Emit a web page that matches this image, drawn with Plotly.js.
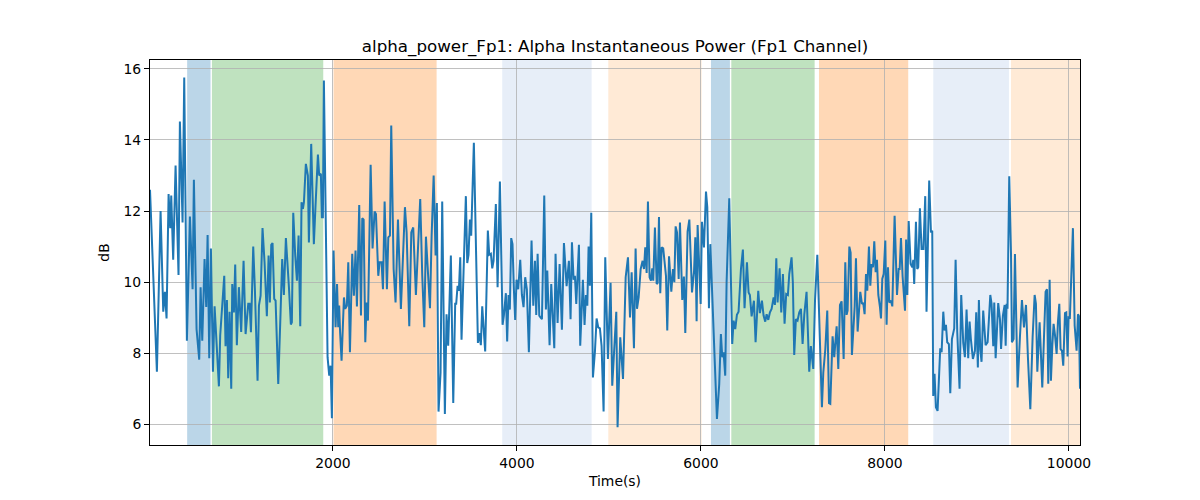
<!DOCTYPE html>
<html>
<head>
<meta charset="utf-8">
<script src="https://cdn.plot.ly/plotly-3.0.1.min.js"></script>
<style>
  html, body { margin: 0; padding: 0; background: #ffffff; }
  #chart { width: 1200px; height: 500px; }
</style>
</head>
<body>
<div id="chart"></div>
<script>
// values
const timeS = [
    12, 87, 127, 156, 174, 192, 214, 232, 243, 264, 290, 322, 337, 366, 384, 413, 446, 475, 489, 518,
    547, 562, 580, 605, 623, 638, 656, 674, 696, 714, 761, 775, 819, 833, 848, 862, 877, 895, 906, 924,
    938, 956, 978, 1003, 1029, 1051, 1080, 1095, 1109, 1134, 1152, 1181, 1196, 1214, 1235, 1257, 1282, 1301, 1315, 1330,
    1344, 1362, 1377, 1406, 1431, 1449, 1467, 1489, 1522, 1543, 1554, 1569, 1590, 1609, 1627, 1645, 1659, 1674, 1685, 1706,
    1728, 1739, 1764, 1793, 1811, 1837, 1851, 1869, 1880, 1891, 1902, 1924, 1942, 1960, 1975, 1989, 2007, 2029, 2045, 2058,
    2068, 2078, 2094, 2120, 2134, 2152, 2167, 2185, 2210, 2228, 2246, 2261, 2286, 2305, 2319, 2334, 2352, 2366, 2381, 2410,
    2431, 2453, 2468, 2493, 2507, 2529, 2544, 2562, 2587, 2602, 2620, 2634, 2660, 2681, 2707, 2739, 2761, 2783, 2801, 2830,
    2852, 2873, 2902, 2924, 2949, 2971, 2993, 3011, 3029, 3055, 3073, 3095, 3116, 3130, 3148, 3170, 3188, 3217, 3235, 3253,
    3282, 3308, 3329, 3340, 3355, 3369, 3384, 3398, 3420, 3445, 3460, 3474, 3489, 3503, 3532, 3554, 3576, 3590, 3608, 3623,
    3655, 3684, 3699, 3717, 3732, 3746, 3771, 3790, 3815, 3844, 3858, 3880, 3894, 3909, 3923, 3938, 3952, 3967, 3981, 3996,
    4014, 4036, 4054, 4072, 4090, 4108, 4130, 4159, 4178, 4196, 4210, 4225, 4243, 4258, 4272, 4297, 4315, 4330, 4355, 4373,
    4391, 4406, 4420, 4442, 4464, 4489, 4511, 4540, 4565, 4583, 4598, 4616, 4630, 4645, 4674, 4688, 4717, 4735, 4750, 4765,
    4779, 4793, 4808, 4826, 4848, 4866, 4884, 4902, 4920, 4942, 4960, 4989, 5018, 5036, 5080, 5094, 5123, 5153, 5182, 5207,
    5229, 5247, 5272, 5290, 5305, 5323, 5345, 5366, 5381, 5395, 5410, 5424, 5442, 5457, 5471, 5482, 5500, 5519, 5530, 5544,
    5558, 5573, 5590, 5605, 5620, 5634, 5653, 5678, 5696, 5711, 5725, 5740, 5758, 5772, 5797, 5815, 5830, 5855, 5874, 5903,
    5925, 5939, 5953, 5964, 5997, 6011, 6033, 6055, 6069, 6087, 6102, 6152, 6174, 6199, 6217, 6232, 6246, 6264, 6279, 6308,
    6322, 6340, 6355, 6373, 6391, 6409, 6435, 6456, 6474, 6500, 6518, 6532, 6551, 6576, 6594, 6623, 6641, 6663, 6681, 6699,
    6714, 6732, 6750, 6768, 6790, 6804, 6819, 6833, 6855, 6873, 6891, 6909, 6927, 6945, 6960, 6985, 6999, 7014, 7032, 7050,
    7069, 7087, 7105, 7123, 7148, 7177, 7195, 7221, 7240, 7265, 7315, 7330, 7352, 7373, 7392, 7406, 7431, 7449, 7475, 7493,
    7511, 7529, 7551, 7569, 7583, 7594, 7613, 7627, 7641, 7671, 7685, 7703, 7732, 7750, 7764, 7779, 7794, 7808, 7826, 7841,
    7855, 7870, 7884, 7899, 7913, 7928, 7946, 7957, 7971, 7986, 8004, 8018, 8033, 8047, 8065, 8080, 8105, 8131, 8149, 8160,
    8174, 8192, 8218, 8230, 8243, 8258, 8279, 8297, 8308, 8318, 8337, 8351, 8362, 8380, 8398, 8418, 8438, 8452, 8481, 8500,
    8514, 8525, 8539, 8554, 8572, 8601, 8616, 8634, 8648, 8663, 8677, 8695, 8710, 8728, 8753, 8768, 8786, 8811, 8829, 8851,
    8869, 8887, 8905, 8920, 8934, 8956, 8978, 8992, 9010, 9021, 9036, 9050, 9068, 9094, 9116, 9145, 9159, 9177, 9188, 9203,
    9231, 9250, 9262, 9282, 9301, 9312, 9322, 9332, 9351, 9370, 9380, 9398, 9413, 9442, 9467, 9489, 9511, 9533, 9554, 9580,
    9605, 9627, 9641, 9656, 9681, 9696, 9710, 9728, 9746, 9761, 9775, 9790, 9804, 9819, 9833, 9848, 9866, 9880, 9895, 9909,
    9924, 9938, 9957, 9971, 9985, 9996, 10010, 10043, 10062, 10083, 10098, 10108, 10120
];

const alphaDb = [
    12.6, 7.48, 12.0, 9.17, 9.73, 8.98, 12.48, 11.52, 12.44, 10.63, 13.28, 10.2, 14.52, 11.68, 15.76, 8.35, 11.85, 9.8, 12.88, 8.68,
    7.82, 9.86, 8.35, 10.65, 9.3, 11.33, 7.86, 10.95, 7.48, 9.32, 7.07, 8.5, 10.18, 8.2, 9.5, 7.3, 9.17, 7.0, 9.95, 9.15,
    10.5, 8.23, 9.86, 8.6, 10.6, 8.54, 9.39, 9.39, 8.59, 11.0, 9.8, 7.23, 9.34, 9.62, 11.52, 10.56, 9.04, 10.75, 9.43, 11.05,
    11.1, 9.53, 9.48, 7.14, 9.15, 10.65, 9.64, 11.24, 9.86, 8.81, 8.87, 11.95, 10.77, 10.04, 11.31, 8.76, 12.25, 12.06, 12.25, 13.33,
    13.0, 11.12, 13.89, 11.07, 12.15, 13.59, 13.0, 13.05, 11.83, 11.83, 15.67, 11.12, 7.89, 7.37, 7.65, 6.17, 10.89, 8.73, 9.95, 8.73,
    9.34, 8.59, 7.79, 9.57, 9.25, 9.34, 10.56, 8.03, 10.8, 9.62, 10.89, 9.32, 12.17, 9.06, 11.8, 11.76, 8.31, 9.43, 8.92, 13.3,
    10.95, 11.99, 11.92, 10.18, 10.56, 10.56, 9.8, 12.27, 9.8, 11.26, 11.31, 14.41, 10.37, 9.43, 11.76, 9.25, 10.56, 12.11, 11.4, 8.76,
    11.4, 11.54, 9.64, 10.8, 12.34, 10.18, 8.73, 11.28, 10.56, 9.27, 11.31, 13.0, 10.75, 12.23, 6.36, 7.46, 12.27, 6.29, 9.1, 8.21,
    10.75, 6.6, 9.39, 9.39, 9.9, 9.76, 10.7, 8.38, 10.3, 12.42, 10.54, 10.77, 11.76, 11.31, 13.92, 11.4, 8.29, 8.57, 8.23, 9.32,
    8.05, 11.45, 10.77, 10.8, 10.39, 10.6, 12.2, 9.86, 12.83, 8.8, 9.06, 9.69, 8.33, 9.64, 9.23, 11.24, 11.07, 9.8, 8.94, 10.07,
    9.8, 10.63, 9.64, 9.3, 10.14, 9.8, 8.03, 11.17, 9.34, 10.6, 9.08, 10.8, 9.06, 9.0, 8.96, 12.44, 9.23, 10.33, 8.23, 9.95,
    8.68, 8.14, 10.8, 8.85, 10.51, 8.66, 11.1, 9.89, 10.6, 8.96, 11.12, 10.07, 10.18, 9.39, 11.05, 8.21, 10.07, 8.8, 9.64, 9.34,
    11.0, 9.9, 11.95, 7.32, 8.05, 8.98, 8.73, 8.7, 8.21, 6.36, 10.7, 7.84, 9.98, 7.09, 9.17, 5.92, 8.45, 7.28, 10.14, 10.7,
    9.01, 10.28, 8.14, 10.95, 9.25, 9.57, 10.37, 10.6, 10.37, 10.98, 10.26, 12.27, 10.14, 10.04, 10.39, 10.04, 11.54, 9.95, 9.98, 11.83,
    9.69, 10.98, 10.95, 10.51, 10.18, 8.64, 10.73, 9.73, 10.37, 10.0, 11.57, 11.4, 10.09, 11.68, 9.5, 10.16, 8.57, 11.42, 11.76, 9.71,
    10.3, 11.26, 8.9, 11.61, 9.39, 11.7, 10.98, 12.55, 12.11, 9.27, 11.07, 7.65, 6.15, 7.14, 8.54, 7.89, 8.03, 7.37, 10.0, 12.36,
    10.65, 8.26, 8.92, 8.68, 9.08, 9.17, 10.37, 10.92, 9.27, 10.56, 9.71, 9.64, 9.04, 9.48, 8.31, 9.76, 9.13, 9.48, 9.06, 8.89,
    9.1, 8.94, 9.15, 9.25, 9.57, 9.36, 10.67, 9.43, 10.39, 9.15, 10.23, 8.83, 9.67, 9.64, 10.23, 10.7, 10.0, 7.95, 8.96, 8.92,
    9.15, 9.25, 8.26, 9.08, 9.73, 7.48, 8.2, 7.56, 9.5, 10.77, 6.48, 7.46, 8.12, 9.2, 6.6, 6.58, 8.48, 7.89, 8.76, 7.56,
    9.36, 9.46, 7.84, 10.56, 9.08, 9.2, 11.0, 10.83, 7.95, 9.32, 10.67, 8.61, 9.73, 9.39, 9.42, 9.1, 10.23, 9.76, 11.0, 9.9,
    10.51, 10.42, 11.15, 10.28, 10.63, 9.64, 9.3, 8.98, 10.09, 10.23, 11.17, 8.8, 10.42, 9.43, 9.48, 9.32, 11.87, 9.64, 10.37, 10.37,
    11.24, 10.16, 9.2, 11.2, 9.64, 11.72, 10.51, 10.42, 10.63, 9.95, 11.7, 10.37, 10.42, 12.08, 10.93, 10.93, 12.42, 9.17, 12.86, 11.4,
    11.45, 6.8, 7.42, 6.48, 6.38, 8.14, 8.03, 9.17, 8.64, 8.8, 8.31, 8.26, 6.88, 8.4, 8.7, 10.63, 8.59, 7.0, 9.64, 8.29,
    7.89, 9.23, 7.86, 8.89, 8.4, 7.84, 8.07, 9.15, 7.6, 9.5, 8.1, 7.76, 9.2, 8.23, 8.31, 9.64, 9.39, 8.2, 9.43, 7.86,
    9.41, 8.96, 8.12, 9.06, 9.36, 8.21, 9.39, 9.25, 12.98, 10.79, 8.31, 8.4, 10.79, 7.04, 8.45, 9.5, 8.73, 9.36, 7.89, 6.43,
    8.45, 9.64, 9.39, 7.48, 8.87, 7.84, 7.04, 8.4, 9.73, 9.8, 7.14, 10.07, 7.23, 8.21, 8.83, 8.52, 7.98, 8.87, 9.39, 8.12,
    8.07, 7.65, 9.13, 9.15, 7.91, 9.01, 9.0, 11.52, 8.78, 8.07, 9.1, 9.05, 7.0
];

// shaded segments
const spanStart = [416, 685, 2007, 3840, 4993, 6109, 6330, 7283, 8525, 9370];
const spanEnd = [670, 1895, 3127, 4812, 6007, 6315, 7236, 8253, 9348, 10120];
const spanKind = ['blue', 'green', 'orange', 'lightblue', 'lightorange',
                  'blue', 'green', 'orange', 'lightblue', 'lightorange'];

const xTicks = [2000, 4000, 6000, 8000, 10000];
const yTicks = [6, 8, 10, 12, 14, 16];

const SPAN_FILL = {
    blue: 'rgba(31,119,180,0.3)',
    green: 'rgba(44,160,44,0.3)',
    orange: 'rgba(255,127,14,0.3)',
    lightblue: 'rgba(174,199,232,0.3)',
    lightorange: 'rgba(255,187,120,0.3)'
};

const FONT = 'DejaVu Sans, sans-serif';

const shapes = spanStart.map((s, i) => ({
    type: 'rect',
    xref: 'x',
    yref: 'paper',
    x0: s,
    x1: spanEnd[i],
    y0: 0,
    y1: 1,
    fillcolor: SPAN_FILL[spanKind[i]],
    line: { width: 0 },
    layer: 'below'
}));

const axisStyle = {
    showline: true,
    mirror: true,
    linecolor: '#000000',
    linewidth: 1,
    ticks: 'outside',
    ticklen: 5,
    tickwidth: 1,
    tickcolor: '#000000',
    showgrid: true,
    gridcolor: '#b0b0b0',
    gridwidth: 0.8,
    zeroline: false,
    tickfont: { family: FONT, size: 13.9, color: '#000000' }
};

const trace = [{
    x: timeS,
    y: alphaDb,
    type: 'scatter',
    mode: 'lines',
    line: { color: '#1f77b4', width: 2 },
    hoverinfo: 'x+y'
}];

const layout = {
    width: 1200,
    height: 500,
    margin: { l: 150, r: 120, t: 60, b: 55 },
    paper_bgcolor: '#ffffff',
    plot_bgcolor: '#ffffff',
    font: { family: FONT, color: '#000000' },
    showlegend: false,
    title: {
        text: 'alpha_power_Fp1: Alpha Instantaneous Power (Fp1 Channel)',
        font: { family: FONT, size: 16.7, color: '#000000' },
        xref: 'paper',
        x: 0.5,
        xanchor: 'center',
        yref: 'container',
        y: 0.908,
        yanchor: 'middle'
    },
    xaxis: Object.assign({}, axisStyle, {
        range: [12, 10120],
        tickvals: xTicks,
        ticktext: xTicks.map(String),
        title: { text: 'Time(s)', font: { family: FONT, size: 13.9 }, standoff: 6 }
    }),
    yaxis: Object.assign({}, axisStyle, {
        range: [5.42, 16.25],
        tickvals: yTicks,
        ticktext: yTicks.map(String),
        title: { text: 'dB', font: { family: FONT, size: 13.9 }, standoff: 10 }
    }),
    shapes: shapes
};

Plotly.newPlot('chart', trace, layout, { staticPlot: true });
</script>
</body>
</html>
